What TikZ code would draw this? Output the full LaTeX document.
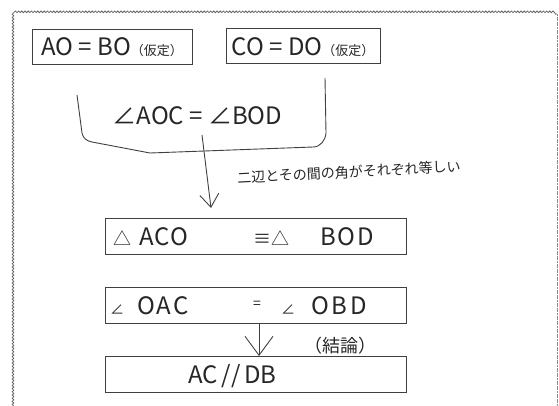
\documentclass[tikz,border=0pt]{standalone}
\usepackage{fontspec}
\setmainfont{Noto Sans CJK JP}
\usetikzlibrary{arrows.meta,decorations.pathmorphing}
\newcommand\pa[2]{\rlap{\hspace*{#1}#2}}
\newcommand\fsz[1]{\fontsize{#1}{#1}\selectfont}
\begin{document}
\begin{tikzpicture}[x=1pt,y=-1pt,
  ink/.style={draw=black!75, line width=0.9pt},
  txt/.style={text=black!85},
  big/.style={txt, font=\fsz{24}},
  hbox/.style={ink, big, minimum height=35pt, inner sep=0pt, text height=18pt, text depth=0pt},
  box/.style={hbox, minimum width=301pt, minimum height=36pt},
  ]
\useasboundingbox (0,0) rectangle (559,405);
% outer frame
\draw[black!60, line width=0.8pt, decorate,
      decoration={snake, segment length=3.2pt, amplitude=0.8pt}]
  (13,412) -- (13,14) -- (557,14);
\draw[black!45, line width=0.8pt, dash pattern=on 2pt off 0.6pt] (557,14) -- (557,412);

% premises
\node[hbox, minimum width=160pt] (h1) at (112,46.5) {AO = BO{\fsz{13}（仮定）}};
\node[hbox, minimum width=154pt] (h2) at (303,46) {CO = DO{\fsz{13}（仮定）}};

% bracket with angle statement
\draw[ink] (77,95) -- (82,133) to[out=-80,in=170] (92,142) -- (150,153)
  -- (313,147) to[out=0,in=-95] (326,133) -- (325,78);
\node[big] (ang) at (197.5,116) {∠AOC = ∠BOD};

% arrow to congruence
\coordinate (s1) at (202,135);
\coordinate (e1) at (211,208);
\draw[ink, -{Straight Barb[length=13pt,width=19pt]}] (s1) -- (e1);
\node[txt, font=\fsz{14}, rotate=3] (lab) at (349,172) {二辺とその間の角がそれぞれ等しい};

% congruence
\node[box] (b3) at (255.5,236.5)
  {\makebox[301pt][l]{\pa{8pt}{\fsz{18}△}\pa{34pt}{A\kern1pt C\kern1pt O}\pa{148pt}{\fsz{18}≡△}\pa{215pt}{B\kern2pt O\kern2pt D}}};

% angles equal
\node[box] (b4) at (255.5,305)
  {\makebox[301pt][l]{\pa{5pt}{\fsz{14}∠}\pa{32pt}{O\kern2pt A\kern2pt C}\pa{148pt}{\raisebox{6pt}{\fsz{14}=}}\pa{176pt}{\fsz{14}∠}\pa{206pt}{O\kern3pt B\kern3pt D}}};

% conclusion
\node[box] (b5) at (255.5,374.5)
  {\makebox[301pt][l]{\pa{83pt}{AC\,//\,DB}}};
\draw[ink, -{Straight Barb[length=19pt,width=28pt]}] ([xshift=3.5pt]b4.south) -- ([xshift=3.5pt]b5.north);
\node[txt, font=\fsz{18}] (con) at (340,346) {（結論）};
\end{tikzpicture}
\end{document}
